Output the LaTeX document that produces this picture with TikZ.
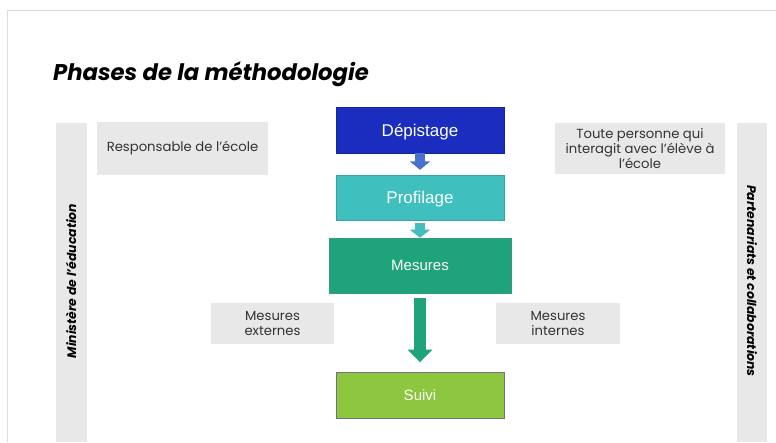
\documentclass[tikz,border=0pt]{standalone}
\usepackage{fontspec}
\setmainfont{Liberation Sans}
\newfontfamily\geo{Poppins}
\usetikzlibrary{arrows.meta}
\definecolor{dep}{HTML}{1A2DBE}
\definecolor{prof}{HTML}{40BFBF}
\definecolor{mes}{HTML}{1FA37A}
\definecolor{suiv}{HTML}{8DC63F}
\definecolor{grayb}{HTML}{E8E8E8}
\definecolor{frame}{HTML}{DDDDDD}
\definecolor{arr1}{HTML}{4A6FCC}
\definecolor{arr2}{HTML}{45BDBD}
\definecolor{arr3}{HTML}{1FA37A}
\tikzset{
  phase/.style={rectangle, inner sep=0pt, text=white, font=\fontsize{17}{20}\selectfont},
  graybox/.style={rectangle, fill=grayb, inner sep=0pt, align=center, text=black!80, font=\geo\fontsize{13.2}{15}\selectfont},
  sidelabel/.style={inner sep=0pt, font=\geo\bfseries\itshape\fontsize{12.4}{14}\selectfont},
}
\begin{document}
\begin{tikzpicture}[x=1pt,y=-1pt]
\useasboundingbox (0,0) rectangle (776,442);
\fill[white] (0,0) rectangle (776,442);
\draw[frame, line width=1pt] (7,442) -- (7,10) -- (776,10);
% side bars
\fill[grayb] (56,123) rectangle (87,442);
\fill[grayb] (737,123) rectangle (767,442);
\node[sidelabel, rotate=90] (min) at (71,281) {Ministère de l’éducation};
\node[sidelabel, rotate=-90] (par) at (752,281) {Partenariats et collaborations};
% title
\node[anchor=base west, inner sep=0pt, font=\geo\bfseries\itshape\fontsize{22.7}{26}\selectfont] (title) at (53,80) {Phases de la méthodologie};
% phases
\node[phase, text depth=0pt, fill=dep, draw=dep!80!black, line width=0.4pt, minimum width=168pt, minimum height=46pt] (dep) at (420,130) {Dépistage};
\node[phase, text depth=0pt, fill=prof, draw=prof!85!black, line width=0.4pt, minimum width=168pt, minimum height=45pt] (prof) at (420,197.5) {Profilage};
\node[phase, fill=mes, draw=mes!80!gray, line width=0.6pt, minimum width=182pt, minimum height=55pt, font=\fontsize{15}{18}\selectfont] (mes) at (420,265.5) {Mesures};
\node[phase, fill=suiv, draw=black!55, line width=0.8pt, minimum width=168pt, minimum height=46pt, font=\fontsize{15}{18}\selectfont] (suivi) at (420,395) {Suivi};
% gray boxes
\node[graybox, minimum width=171pt, minimum height=53pt] (resp) at (182.5,148.5) {Responsable de l’école};
\node[graybox, minimum width=170pt, minimum height=51pt] (toute) at (640,148.5) {Toute personne qui\\interagit avec l’élève à\\l’école};
\node[graybox, minimum width=123pt, minimum height=41pt] (ext) at (272.5,323.5) {Mesures\\externes};
\node[graybox, minimum width=124pt, minimum height=41pt] (int) at (558,323.5) {Mesures\\internes};
% arrows
\draw[arr1, line width=10pt, -{Triangle[width=20pt,length=8.5pt]}, shorten >=5pt] (dep.south) -- (prof.north);
\draw[arr2, line width=10pt, -{Triangle[width=20pt,length=8pt]}, shorten <=2.7pt] (prof.south) -- (mes.north);
\draw[arr3, line width=12pt, -{Triangle[width=24pt,length=12.7pt]}, shorten <=5pt, shorten >=9.3pt] (mes.south) -- (suivi.north);
\end{tikzpicture}
\end{document}
